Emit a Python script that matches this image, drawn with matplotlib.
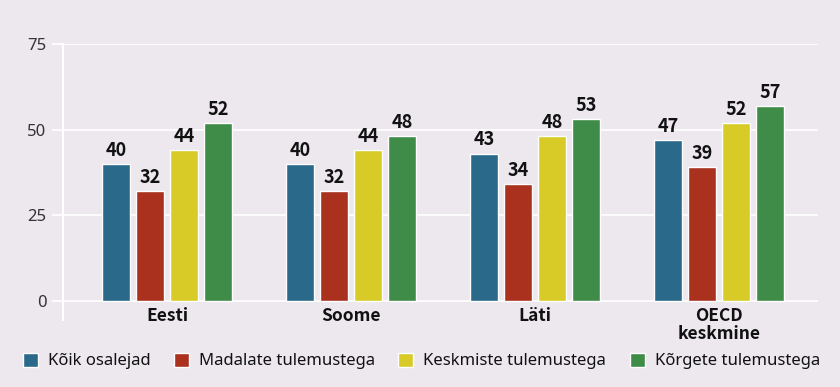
import numpy as np
import matplotlib.pyplot as plt
from matplotlib.patches import Patch

countries = ['Eesti', 'Soome', 'Läti', 'OECD\nkeskmine']
series = ['Kõik osalejad', 'Madalate tulemustega', 'Keskmiste tulemustega', 'Kõrgete tulemustega']
koik = [40, 40, 43, 47]
madal = [32, 32, 34, 39]
keskm = [44, 44, 48, 52]
korge = [52, 48, 53, 57]
colors = ['#2a6989', '#a9311e', '#d8cb28', '#3f8b48']

bg = '#ece8ee'
plt.rcParams['font.family'] = ['Noto Sans', 'DejaVu Sans']
bold_font = ['Noto Sans CJK JP', 'DejaVu Sans']

fig = plt.figure(figsize=(8.4, 3.87), dpi=100, facecolor=bg)
ax = fig.add_axes([63/840, 1-320/387, (818-63)/840, (320-44)/387])
ax.set_facecolor(bg)

x = np.arange(len(countries))
step = 0.185
width = 0.155
for i, vals in enumerate([koik, madal, keskm, korge]):
    pos = x + (i - 1.5) * step
    ax.bar(pos, vals, width, color=colors[i], edgecolor='white', linewidth=1, zorder=3)
    for p, v in zip(pos, vals):
        ax.text(p, v + 1.2, str(v), ha='center', va='bottom', fontsize=13,
                fontweight='bold', family=bold_font, color='#111111', zorder=4)

ax.set_xlim(-0.565, 3.538)
ax.set_ylim(-5.6, 75)
ax.set_yticks([0, 25, 50, 75])
ax.yaxis.grid(True, color='white', linewidth=1.2, zorder=0)
ax.tick_params(axis='y', length=8, color='white', width=1.2, labelsize=12,
               labelcolor='#333333', pad=4)
ax.set_xticks([])
for s in ['top', 'right', 'bottom']:
    ax.spines[s].set_visible(False)
ax.spines['left'].set_color('white')
ax.spines['left'].set_linewidth(1.5)

for xi, name in zip(x, countries):
    ax.text(xi, -1.9, name, ha='center', va='top', fontsize=12.5, fontweight='bold',
            family=bold_font, color='#111111', linespacing=1.0)

handles = [Patch(facecolor=c, edgecolor='white', label=s) for c, s in zip(colors, series)]
fig.legend(handles=handles, loc='center left', bbox_to_anchor=(8/840, 1-361/387),
           ncol=4, frameon=False, fontsize=12, handlelength=0.9, handleheight=0.9,
           handletextpad=0.6, columnspacing=1.4, labelcolor='#111111')

fig.savefig('out.png', dpi=100, facecolor=bg)
